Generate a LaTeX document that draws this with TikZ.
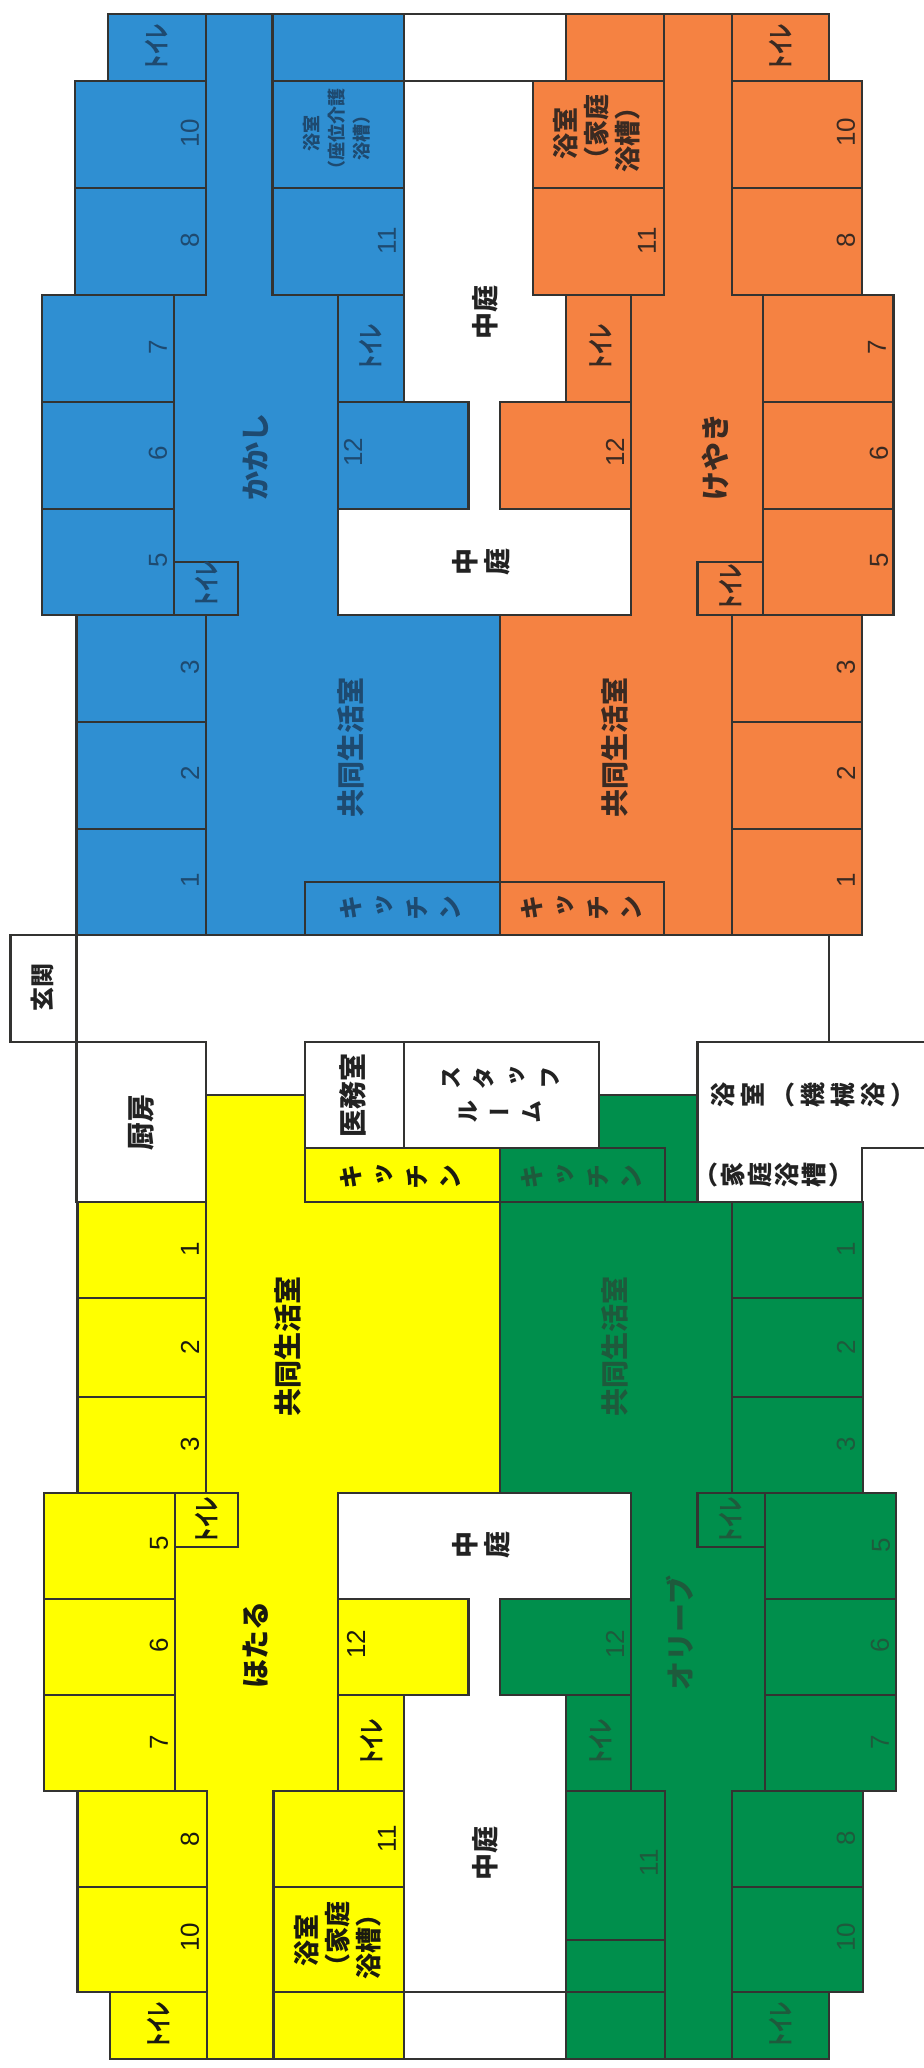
\documentclass[tikz,border=0pt]{standalone}
\usepackage{fontspec}
\usepackage{graphicx}
\setmainfont{Liberation Sans}
\newfontfamily\jp{Noto Sans CJK JP}
\newfontfamily\jpv[RawFeature=+vert]{Noto Sans CJK JP}
\definecolor{wblue}{HTML}{2F8FD2}
\definecolor{worange}{HTML}{F58242}
\definecolor{wyellow}{HTML}{FFFF00}
\definecolor{wgreen}{HTML}{008F4C}
\definecolor{wall}{HTML}{333331}
\definecolor{tblue}{HTML}{1E4A70}
\definecolor{torange}{HTML}{3A2A22}
\definecolor{tyellow}{HTML}{1A1A10}
\definecolor{tgreen}{HTML}{1E5A3C}
\definecolor{twhite}{HTML}{222222}
\tikzset{
  wallline/.style={draw=wall,line width=2.8pt,line cap=rect,line join=miter},
  lbl/.style={rotate=90,inner sep=0pt,anchor=center},
  num/.style={lbl,font=\fontsize{26}{26}\selectfont},
  room/.style={lbl,font=\jp\bfseries\fontsize{28}{28}\selectfont},
  wc/.style={lbl,font=\jp\bfseries\fontsize{26}{26}\selectfont},
  wing/.style={lbl,font=\jp\bfseries\fontsize{29}{29}\selectfont},
  kit/.style={lbl,align=center,font=\jpv\bfseries\fontsize{25}{33}\selectfont},
  bath/.style={lbl,align=center,font=\jp\bfseries\fontsize{26}{31}\selectfont},
  yard/.style={lbl,text=twhite,font=\jp\bfseries\fontsize{27}{27}\selectfont},
  yardv/.style={lbl,text=twhite,align=center,font=\jpv\bfseries\fontsize{27}{32}\selectfont}
}
\newcommand{\wcx}{\scalebox{0.6}[1]{トイレ}}
\begin{document}
\begin{tikzpicture}[x=1pt,y=-1pt]
\useasboundingbox (0,0) rectangle (923,2068);
% ---------- fills
\fill[wblue] (108,14)--(404,14)--(404,402)--(468.5,402)--(468.5,509)--(338,509)--(338,615)--(500,615)--(500,935)--(76.5,935)--(76.5,615)--(42,615)--(42,295)--(75,295)--(75,81)--(108,81)--cycle;
\fill[worange] (566,14)--(829,14)--(829,81)--(862,81)--(862,295)--(893.5,295)--(893.5,615)--(862,615)--(862,935)--(500,935)--(500,615)--(631,615)--(631,509)--(500,509)--(500,402)--(566,402)--(566,295)--(533,295)--(533,81)--(566,81)--cycle;
\fill[wyellow] (206,1095)--(305,1095)--(305,1148)--(500,1148)--(500,1493)--(338,1493)--(338,1599)--(468.5,1599)--(468.5,1695)--(404,1695)--(404,2059)--(110,2059)--(110,1992)--(77.7,1992)--(77.7,1791)--(44,1791)--(44,1493)--(77.7,1493)--(77.7,1202)--(206,1202)--cycle;
\fill[wgreen] (500,1148)--(599,1148)--(599,1095)--(697.5,1095)--(697.5,1202)--(862,1202)--(863,1493)--(896,1493)--(896,1791)--(863,1791)--(863,1992)--(829,1992)--(829,2059)--(566,2059)--(566,1695)--(500,1695)--(500,1599)--(631,1599)--(631,1493)--(500,1493)--cycle;
% ---------- outlines: blue
\draw[wallline] (75,81)--(108,81)--(108,14)--(829,14)--(829,81)--(862,81)--(862,295)--(893.5,295)--(893.5,615)--(862,615)--(862,935)--(10.6,935)--(10.6,1042)--(206,1042)--(206,1493);
\draw[wallline] (108,81)--(75,81)--(75,295)--(42,295)--(42,615)--(76.5,615)--(76.5,1202);
\draw[wallline] (206,14)--(206,295); \draw[wallline] (272.5,14)--(272.5,295);
\draw[wallline] (206,615)--(206,935);
\draw[wallline] (174,295)--(174,615); \draw[wallline] (338,295)--(338,615)--(631,615)--(631,295);
\draw[wallline] (404,14)--(404,402); \draw[wallline] (75,188)--(206,188);
\draw[wallline] (75,81)--(206,81); \draw[wallline] (272.5,81)--(664,81);
\draw[wallline] (272.5,188)--(404,188); \draw[wallline] (42,295)--(206,295); \draw[wallline] (272.5,295)--(404,295);
\draw[wallline] (42,402)--(174,402); \draw[wallline] (42,509)--(174,509);
\draw[wallline] (338,402)--(468.5,402)--(468.5,509)--(338,509);
\draw[wallline] (174,562)--(238,562)--(238,615)--(42,615);
\draw[wallline] (76.5,615)--(238,615); \draw[wallline] (76.5,722)--(206,722); \draw[wallline] (76.5,829)--(206,829);
\draw[wallline] (305,935)--(305,882)--(664,882)--(664,935);
\draw[wallline] (500,615)--(500,935); \draw[wallline] (500,1148)--(500,1493);
% orange
\draw[wallline] (566,14)--(566,81); \draw[wallline] (664,14)--(664,295); \draw[wallline] (732,14)--(732,295);
\draw[wallline] (533,81)--(533,295)--(664,295); \draw[wallline] (533,188)--(664,188);
\draw[wallline] (732,81)--(862,81); \draw[wallline] (732,188)--(862,188); \draw[wallline] (732,295)--(893.5,295);
\draw[wallline] (566,295)--(566,402); \draw[wallline] (500,402)--(631,402); \draw[wallline] (500,402)--(500,509)--(631,509);
\draw[wallline] (763,295)--(763,615); \draw[wallline] (763,402)--(893.5,402); \draw[wallline] (763,509)--(893.5,509);
\draw[wallline] (763,562)--(697.5,562)--(697.5,615)--(893.5,615);
\draw[wallline] (732,615)--(732,935); \draw[wallline] (732,722)--(862,722); \draw[wallline] (732,829)--(862,829);
% middle white rooms
\draw[wallline] (829,935)--(829,1042);
\draw[wallline] (76.5,1202)--(206,1202);
\draw[wallline] (305,1042)--(599,1042)--(599,1148)--(305,1148)--cycle; \draw[wallline] (404,1042)--(404,1148);
\draw[wallline] (206,1095)--(305,1095); \draw[wallline] (599,1095)--(697.5,1095);
\draw[wallline] (923,1042)--(697.5,1042)--(697.5,1202)--(862,1202)--(862,1148)--(923,1148);
% yellow
\draw[wallline] (305,1148)--(305,1202)--(697.5,1202); \draw[wallline] (665,1148)--(665,1202); \draw[wallline] (599,1148)--(665,1148);
\draw[wallline] (77.7,1298)--(206,1298); \draw[wallline] (77.7,1397)--(206,1397);
\draw[wallline] (77.7,1202)--(77.7,1493)--(44,1493)--(44,1791)--(77.7,1791)--(77.7,1992)--(110,1992)--(110,2059)--(829,2059)--(829,1992)--(863,1992)--(863,1791)--(896,1791)--(896,1493)--(863,1493)--(863,1202);
\draw[wallline] (44,1493)--(238,1493)--(238,1547)--(175,1547); \draw[wallline] (175,1493)--(175,1791);
\draw[wallline] (338,1791)--(338,1493)--(631,1493)--(631,1791);
\draw[wallline] (44,1599)--(175,1599); \draw[wallline] (44,1695)--(175,1695);
\draw[wallline] (338,1599)--(468.5,1599)--(468.5,1695)--(338,1695);
\draw[wallline] (44,1791)--(207,1791); \draw[wallline] (207,1791)--(207,2059); \draw[wallline] (77.7,1887)--(207,1887); \draw[wallline] (77.7,1992)--(207,1992);
\draw[wallline] (273.7,1791)--(404,1791); \draw[wallline] (273.7,1887)--(404,1887); \draw[wallline] (273.7,1992)--(665,1992);
\draw[wallline] (273.7,1791)--(273.7,2059); \draw[wallline] (404,1695)--(404,2059);
% green
\draw[wallline] (500,1599)--(631,1599); \draw[wallline] (500,1599)--(500,1695)--(631,1695);
\draw[wallline] (566,1695)--(566,2059); \draw[wallline] (566,1791)--(665,1791); \draw[wallline] (566,1940)--(665,1940);
\draw[wallline] (665,1791)--(665,2059); \draw[wallline] (732,1791)--(732,2059);
\draw[wallline] (732,1791)--(896,1791); \draw[wallline] (732,1887)--(863,1887); \draw[wallline] (732,1992)--(863,1992);
\draw[wallline] (765,1493)--(765,1791); \draw[wallline] (765,1599)--(896,1599); \draw[wallline] (765,1695)--(896,1695);
\draw[wallline] (896,1493)--(697.5,1493)--(697.5,1547)--(765,1547);
\draw[wallline] (732,1202)--(732,1493); \draw[wallline] (732,1298)--(862,1298); \draw[wallline] (732,1397)--(862,1397);
% ---------- numbers, blue
\begin{scope}[text=tblue]
\node[num] (b10) at (190,133) {10}; \node[num] (b8) at (190,240) {8}; \node[num] (b7) at (158,347) {7};
\node[num] (b6) at (158,453) {6}; \node[num] (b5) at (158,560) {5}; \node[num] (b3) at (190,667) {3};
\node[num] (b2) at (190,773) {2}; \node[num] (b1) at (190,880) {1}; \node[num] (b12) at (353,452) {12};
\node[num] (b11) at (387,241) {11};
\node[wc] (bw1) at (156,47) {\wcx}; \node[wc] (bw2) at (370,347) {\wcx}; \node[wc] (bw3) at (206,584) {\wcx};
\node[wing] (bn) at (256,457) {かかし};
\node[room] (br) at (351,747) {共同生活室};
\node[kit] (bk) at (400,908) {キ\\ッ\\チ\\ン};
\node[lbl,align=center,font=\jp\bfseries\fontsize{18}{25}\selectfont] (bb) at (337,134) {浴室\\（座位介護\\浴槽）};
\end{scope}
% orange
\begin{scope}[text=torange]
\node[num] (o10) at (846,132) {10}; \node[num] (o8) at (846,240) {8}; \node[num] (o7) at (877,347) {7};
\node[num] (o6) at (879,453) {6}; \node[num] (o5) at (879,560) {5}; \node[num] (o3) at (846,667) {3};
\node[num] (o2) at (846,773) {2}; \node[num] (o1) at (846,880) {1}; \node[num] (o12) at (615,452) {12};
\node[num] (o11) at (647,241) {11};
\node[wc] (ow1) at (780,47) {\wcx}; \node[wc] (ow2) at (600,347) {\wcx}; \node[wc] (ow3) at (730,587) {\wcx};
\node[wing] (on) at (715,457) {けやき};
\node[room] (or) at (615,747) {共同生活室};
\node[kit] (ok) at (581,908) {キ\\ッ\\チ\\ン};
\node[bath] (ob) at (597,134) {浴室\\（家庭\\浴槽）};
\end{scope}
% yellow
\begin{scope}[text=tyellow]
\node[num] (y1) at (190,1249) {1}; \node[num] (y2) at (190,1347) {2}; \node[num] (y3) at (190,1444) {3};
\node[num] (y5) at (159,1543) {5}; \node[num] (y6) at (159,1645) {6}; \node[num] (y7) at (159,1742) {7};
\node[num] (y8) at (190,1839) {8}; \node[num] (y10) at (190,1937) {10}; \node[num] (y12) at (356,1644) {12};
\node[num] (y11) at (387,1839) {11};
\node[wc] (yw1) at (206,1520) {\wcx}; \node[wc] (yw2) at (371,1742) {\wcx}; \node[wc] (yw3) at (158,2025) {\wcx};
\node[wing] (yn) at (256,1645) {ほたる};
\node[room] (yr) at (288,1346) {共同生活室};
\node[kit] (yk) at (400,1177) {キ\\ッ\\チ\\ン};
\node[bath] (yb) at (338,1940) {浴室\\（家庭\\浴槽）};
\end{scope}
% green
\begin{scope}[text=tgreen]
\node[num] (g1) at (846,1249) {1}; \node[num] (g2) at (846,1347) {2}; \node[num] (g3) at (846,1444) {3};
\node[num] (g5) at (881,1545) {5}; \node[num] (g6) at (880,1645) {6}; \node[num] (g7) at (880,1742) {7};
\node[num] (g8) at (846,1838) {8}; \node[num] (g10) at (846,1937) {10}; \node[num] (g12) at (615,1644) {12};
\node[num] (g11) at (649,1863) {11};
\node[wc] (gw1) at (730,1520) {\wcx}; \node[wc] (gw2) at (600,1742) {\wcx}; \node[wc] (gw3) at (780,2025) {\wcx};
\node[wing] (gn) at (680,1633) {オリーブ};
\node[room] (gr) at (615,1346) {共同生活室};
\node[kit] (gk) at (581,1177) {キ\\ッ\\チ\\ン};
\end{scope}
% white rooms and yards
\begin{scope}[text=twhite]
\node[yard] (y1a) at (485,312) {中庭};
\node[yard] (y1b) at (485,1853) {中庭};
\node[yardv] (y2a) at (481,562) {中\\庭};
\node[yardv] (y2b) at (481,1545) {中\\庭};
\node[room] (kitch) at (141,1122) {厨房};
\node[room] (med) at (353,1095) {医務室};
\node[lbl,font=\jp\bfseries\fontsize{24}{24}\selectfont] (ent) at (42,987) {玄関};
\node[lbl,align=center,font=\jpv\bfseries\fontsize{23}{33}\selectfont] (st1) at (501,1078) {ス\\タ\\ッ\\フ};
\node[lbl,align=center,font=\jpv\bfseries\fontsize{23}{32}\selectfont] (st2) at (500,1112) {ル\\ー\\ム};
\node[lbl,align=center,font=\jpv\bfseries\fontsize{25}{30}\selectfont] (ba1) at (812,1095) {浴\\室\\（\\機\\械\\浴\\）};
\node[lbl,align=center,font=\jpv\bfseries\fontsize{25}{27}\selectfont] (ba2) at (780,1175) {（\\家\\庭\\浴\\槽\\）};
\end{scope}
\end{tikzpicture}
\end{document}
